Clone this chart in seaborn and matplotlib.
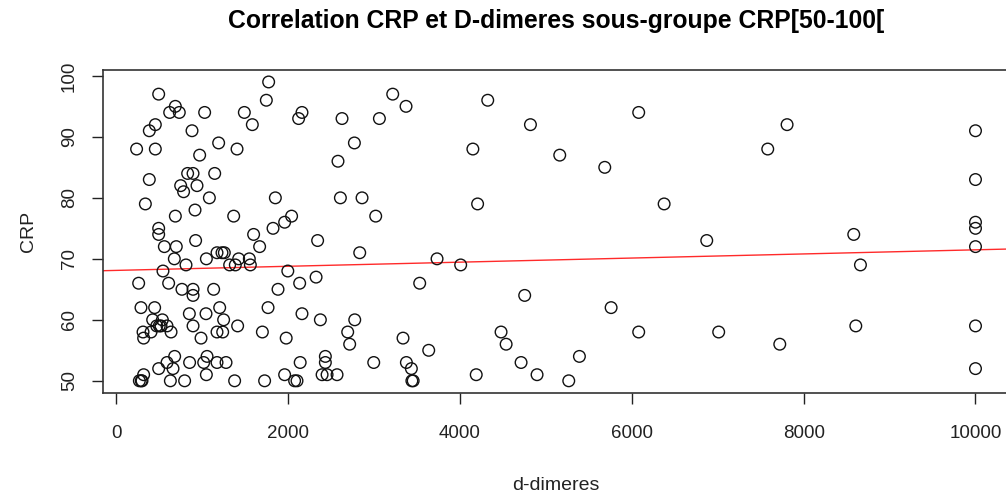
import matplotlib
matplotlib.use("Agg")
import matplotlib.pyplot as plt
import pandas as pd
import seaborn as sns

# d-dimeres / CRP pairs
ddimeres = [
    1773, 493, 3217, 687, 3372, 1746, 4323,
    621, 733, 1028, 1490, 2161, 6080,
    2122, 2627, 3062,
    454, 1583, 4820, 7807,
    384, 881, 10000,
    1191, 2771,
    236, 454, 1405, 4150, 7582,
    970, 5161,
    2580,
    5685,
    830, 893, 1145,
    384, 10000,
    749, 939,
    783,
    1083, 1851, 2608, 2860,
    338, 4205, 6376,
    916,
    687, 1366, 2040, 3019,
    1959, 10000,
    493, 1824, 10000,
    493, 1598, 8583,
    923, 2343, 6872,
    559, 698, 1668, 10000,
    1172, 1230, 1257, 2833,
    675, 1048, 1424, 1548, 3733,
    811, 1319, 1385, 1560, 4008, 8661,
    543, 1996,
    2325,
    260, 609, 2134, 3531,
    764, 893, 1133, 1882,
    893, 4753,
    287, 446, 1203, 1766, 5759,
    850, 1044, 2161,
    423, 536, 1249, 2375, 2775,
    470, 500, 520, 590, 893, 1412, 8607, 10000,
    311, 404, 637, 1172, 1238, 1700, 2693, 4478, 6080, 7011,
    318, 986, 1977, 3337,
    2716, 4537, 7722,
    3636,
    679, 1056, 2433, 5390,
    590, 853, 1017, 1172, 1277, 2140, 2433, 2996, 3376, 4711,
    493, 660, 3434, 10000,
    318, 1048, 1959, 2395, 2453, 2569, 4189, 4897,
    268, 290, 299, 629, 795, 1377, 1726, 2075, 2103, 3440, 3455, 5266,
]
crp = [
    99, 97, 97, 95, 95, 96, 96,
    94, 94, 94, 94, 94, 94,
    93, 93, 93,
    92, 92, 92, 92,
    91, 91, 91,
    89, 89,
    88, 88, 88, 88, 88,
    87, 87,
    86,
    85,
    84, 84, 84,
    83, 83,
    82, 82,
    81,
    80, 80, 80, 80,
    79, 79, 79,
    78,
    77, 77, 77, 77,
    76, 76,
    75, 75, 75,
    74, 74, 74,
    73, 73, 73,
    72, 72, 72, 72,
    71, 71, 71, 71,
    70, 70, 70, 70, 70,
    69, 69, 69, 69, 69, 69,
    68, 68,
    67,
    66, 66, 66, 66,
    65, 65, 65, 65,
    64, 64,
    62, 62, 62, 62, 62,
    61, 61, 61,
    60, 60, 60, 60, 60,
    59, 59, 59, 59, 59, 59, 59, 59,
    58, 58, 58, 58, 58, 58, 58, 58, 58, 58,
    57, 57, 57, 57,
    56, 56, 56,
    55,
    54, 54, 54, 54,
    53, 53, 53, 53, 53, 53, 53, 53, 53, 53,
    52, 52, 52, 52,
    51, 51, 51, 51, 51, 51, 51, 51,
    50, 50, 50, 50, 50, 50, 50, 50, 50, 50, 50, 50,
]

x_ticks = [0, 2000, 4000, 6000, 8000, 10000]
y_ticks = [50, 60, 70, 80, 90, 100]

df = pd.DataFrame({"d-dimeres": ddimeres, "CRP": crp})

sns.set_style("white")
plt.rcParams["font.family"] = ["Liberation Sans", "DejaVu Sans"]

fig = plt.figure(figsize=(10.06, 4.94), dpi=100)
ax = fig.add_axes([103 / 1006, 1 - 393 / 494, 906 / 1006, 323 / 494])

sns.scatterplot(data=df, x="d-dimeres", y="CRP", ax=ax, marker="o", s=70,
                facecolor="none", edgecolor="#111111", linewidth=1.0, zorder=3)
sns.regplot(data=df, x="d-dimeres", y="CRP", ax=ax, scatter=False, ci=None,
            truncate=False, line_kws={"color": "#ff2a2a", "linewidth": 1.0})

ax.set_xlim(-155, 10390)
ax.set_ylim(48.0, 100.96)
ax.set_xticks(x_ticks)
ax.set_yticks(y_ticks)
ax.set_yticklabels([str(v) for v in y_ticks], rotation=90, va="center")
ax.tick_params(axis="x", pad=15)
ax.tick_params(axis="y", pad=10)
ax.tick_params(axis="both", direction="out", length=8, width=1, labelsize=13.5,
               colors="#222222", bottom=True, left=True)

for spine in ax.spines.values():
    spine.set_color("#333333")
    spine.set_linewidth(1.2)

ax.set_xlabel("d-dimeres", fontsize=14, labelpad=25, color="#222222")
ax.set_ylabel("CRP", fontsize=14, labelpad=17, color="#222222")
ax.set_title("Correlation CRP et D-dimeres sous-groupe CRP[50-100[",
             fontsize=17.8, fontweight="bold", pad=30, color="black")

fig.savefig("out.png", dpi=100)
